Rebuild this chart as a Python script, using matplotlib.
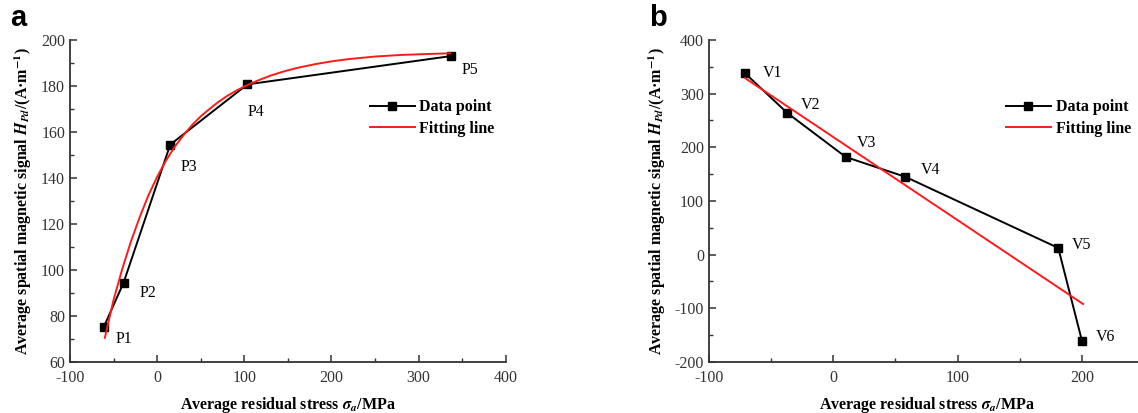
import matplotlib
matplotlib.use('Agg')
import matplotlib.pyplot as plt
from matplotlib.ticker import MultipleLocator

plt.rcParams['font.family'] = ['Liberation Serif', 'DejaVu Serif']
plt.rcParams['mathtext.fontset'] = 'stix'
plt.rcParams['axes.unicode_minus'] = False

# --- Data ---
# panel a
p_stress = [-61.5, -38.5, 15, 103.5, 337]
p_signal = [75, 94.5, 154.5, 180.7, 193]
p_names = ['P1', 'P2', 'P3', 'P4', 'P5']
p_fit_x = [-60, -50, -40, -30, -20, -10, 0, 10, 20, 30, 40, 50, 60, 70, 80, 90, 100,
           115, 130, 145, 160, 180, 200, 220, 250, 280, 310, 336]
p_fit_y = [70.5, 87, 100.5, 112.5, 123, 132.5, 140.5, 147.5, 153.5, 158.5, 163, 166.8,
           170, 173, 175.6, 177.8, 179.8, 182.3, 184.5, 186.3, 187.8, 189.4, 190.7,
           191.7, 192.8, 193.5, 193.9, 194.2]
# panel b
v_stress = [-71, -37, 10, 58, 181, 200]
v_signal = [338, 264, 182, 145, 12.5, -160]
v_names = ['V1', 'V2', 'V3', 'V4', 'V5', 'V6']
v_fit_x = [-71, 201]
v_fit_y = [329, -92]

# label offsets in pixels (dx, dy)
p_offsets = [(12, -12), (16, -10), (10, -22), (0, -28), (11, -14)]
v_offsets = [(18, 0), (14, 8), (11, 14), (15, 7), (14, 3), (14, 4)]

fig = plt.figure(figsize=(11.38, 4.13), dpi=100)
ax1 = fig.add_axes([0.0615, 0.1235, 0.383, 0.7797])
ax2 = fig.add_axes([0.623, 0.1235, 0.3823, 0.7797])

ylab = r'Average spatial magnetic signal $\mathbfit{H}_{\mathbfit{Pd}}$/(A·m$^{\mathbf{-1}}$)'
xlab = r'Average residual stress $\mathbfit{\sigma}_{\mathbfit{a}}$/MPa'


def style(ax):
    for s in ['top', 'right']:
        ax.spines[s].set_visible(False)
    for s in ['left', 'bottom']:
        ax.spines[s].set_linewidth(1.3)
        ax.spines[s].set_color('#333333')
    ax.tick_params(which='both', direction='in', labelsize=11.5, colors='#333333')
    ax.tick_params(which='major', length=5, width=1.1)
    ax.tick_params(which='minor', length=3, width=1.0)
    ax.tick_params(axis='x', which='major', pad=6)
    ax.set_xlabel(xlab, fontsize=11.5, fontweight='bold', labelpad=6)
    ax.set_ylabel(ylab, fontsize=11.5, fontweight='bold', labelpad=5)


# --- panel a ---
ax1.plot(p_stress, p_signal, color='black', marker='s', markersize=5.5, lw=1.4,
         label='Data point')
ax1.plot(p_fit_x, p_fit_y, color='#ff1a1a', lw=1.4, label='Fitting line')
for x, y, n, off in zip(p_stress, p_signal, p_names, p_offsets):
    ax1.annotate(n, (x, y), xytext=off, textcoords='offset pixels', fontsize=11.5,
                 ha='left', va='center')
ax1.set_xlim(-100, 400)
ax1.set_ylim(60, 200)
ax1.xaxis.set_major_locator(MultipleLocator(100))
ax1.xaxis.set_minor_locator(MultipleLocator(50))
ax1.yaxis.set_major_locator(MultipleLocator(20))
ax1.yaxis.set_minor_locator(MultipleLocator(10))
style(ax1)
ax1.legend(loc='upper left', bbox_to_anchor=(0.655, 0.86), frameon=False,
           prop={'weight': 'bold', 'size': 11.5}, handlelength=2.8,
           handletextpad=0.3, labelspacing=0.35)

# --- panel b ---
ax2.plot(v_stress, v_signal, color='black', marker='s', markersize=5.5, lw=1.4,
         label='Data point')
ax2.plot(v_fit_x, v_fit_y, color='#ff1a1a', lw=1.4, label='Fitting line')
for x, y, n, off in zip(v_stress, v_signal, v_names, v_offsets):
    ax2.annotate(n, (x, y), xytext=off, textcoords='offset pixels', fontsize=11.5,
                 ha='left', va='center')
ax2.set_xlim(-100, 250)
ax2.set_ylim(-200, 400)
ax2.set_xticks([-100, 0, 100, 200])
ax2.xaxis.set_minor_locator(MultipleLocator(50))
ax2.yaxis.set_major_locator(MultipleLocator(100))
ax2.yaxis.set_minor_locator(MultipleLocator(50))
style(ax2)
ax2.legend(loc='upper left', bbox_to_anchor=(0.65, 0.86), frameon=False,
           prop={'weight': 'bold', 'size': 11.5}, handlelength=2.8,
           handletextpad=0.3, labelspacing=0.35)

fig.text(0.009, 0.99, 'a', fontsize=21, fontweight='bold', family='Liberation Sans',
         va='top')
fig.text(0.570, 0.99, 'b', fontsize=21, fontweight='bold', family='Liberation Sans',
         va='top')

fig.savefig('out.png', dpi=100)
